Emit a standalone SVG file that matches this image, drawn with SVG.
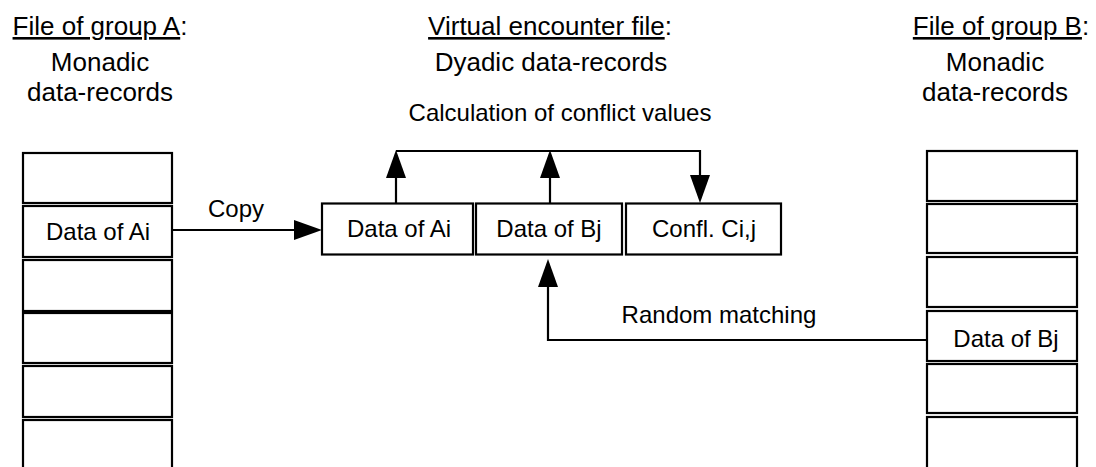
<svg xmlns="http://www.w3.org/2000/svg" width="1096" height="467" viewBox="0 0 1096 467">
  <style>
    text { font-family: "Liberation Sans", Arial, sans-serif; fill: #000; }
    .head { font-size: 26px; text-anchor: middle; }
    .lbl { font-size: 24px; text-anchor: middle; }
    .cell { fill: #fff; stroke: #000; stroke-width: 2.2; }
    .wire { fill: none; stroke: #000; stroke-width: 2.2; }
  </style>
  <defs>
    <marker id="arrow" markerUnits="userSpaceOnUse" markerWidth="30" markerHeight="22" refX="0" refY="10" orient="auto">
      <path d="M0,0 L28,10 L0,20 Z" fill="#000"/>
    </marker>
  </defs>

  <!-- column titles -->
  <g id="title-a">
    <text class="head" x="100" y="35"><tspan text-decoration="underline">File of group A</tspan>:</text>
    <text class="head" x="100" y="71">Monadic</text>
    <text class="head" x="100" y="101">data-records</text>
  </g>
  <g id="title-enc">
    <text class="head" x="550" y="35"><tspan text-decoration="underline">Virtual encounter file</tspan>:</text>
    <text class="head" x="551" y="71">Dyadic data-records</text>
  </g>
  <g id="title-b">
    <text class="head" x="1001" y="35"><tspan text-decoration="underline">File of group B</tspan>:</text>
    <text class="head" x="995" y="71">Monadic</text>
    <text class="head" x="995" y="101">data-records</text>
  </g>

  <!-- file of group A -->
  <g id="file-a">
    <rect class="cell" x="23" y="153" width="149" height="50"/>
    <rect class="cell" x="23" y="206" width="149" height="51"/>
    <rect class="cell" x="23" y="260" width="149" height="51"/>
    <rect class="cell" x="23" y="313" width="149" height="50"/>
    <rect class="cell" x="23" y="366" width="149" height="51"/>
    <rect class="cell" x="23" y="420" width="149" height="60"/>
    <text class="lbl" x="98" y="240" font-size="25">Data of Ai</text>
  </g>

  <!-- file of group B -->
  <g id="file-b">
    <rect class="cell" x="927" y="151" width="150" height="50"/>
    <rect class="cell" x="927" y="204" width="150" height="49"/>
    <rect class="cell" x="927" y="257" width="150" height="50"/>
    <rect class="cell" x="927" y="311" width="150" height="50"/>
    <rect class="cell" x="927" y="364" width="150" height="49"/>
    <rect class="cell" x="927" y="417" width="150" height="60"/>
    <text class="lbl" x="1006" y="347" font-size="25">Data of Bj</text>
  </g>

  <!-- dyadic record -->
  <g id="rec-a">
    <rect class="cell" x="322" y="203.5" width="151" height="51"/>
    <text class="lbl" x="399" y="237" font-size="25">Data of Ai</text>
  </g>
  <g id="rec-b">
    <rect class="cell" x="476" y="203.5" width="146" height="51"/>
    <text class="lbl" x="549" y="237" font-size="25">Data of Bj</text>
  </g>
  <g id="rec-c">
    <rect class="cell" x="626" y="203.5" width="155" height="51"/>
    <text class="lbl" x="704" y="237" font-size="25">Confl. Ci,j</text>
  </g>

  <!-- connectors -->
  <g id="connectors">
    <line class="wire" x1="172" y1="230" x2="294" y2="230" marker-end="url(#arrow)"/>
    <text class="lbl" x="236" y="217">Copy</text>

    <line class="wire" x1="396" y1="203" x2="396" y2="178" marker-end="url(#arrow)"/>
    <line class="wire" x1="550" y1="203" x2="550" y2="178" marker-end="url(#arrow)"/>
    <polyline class="wire" points="396,151 700,151 700,175" marker-end="url(#arrow)"/>
    <text class="lbl" x="560" y="121">Calculation of conflict values</text>

    <polyline class="wire" points="927,340 548,340 548,287" marker-end="url(#arrow)"/>
    <text class="lbl" x="719" y="323" font-size="23">Random matching</text>
  </g>
</svg>
